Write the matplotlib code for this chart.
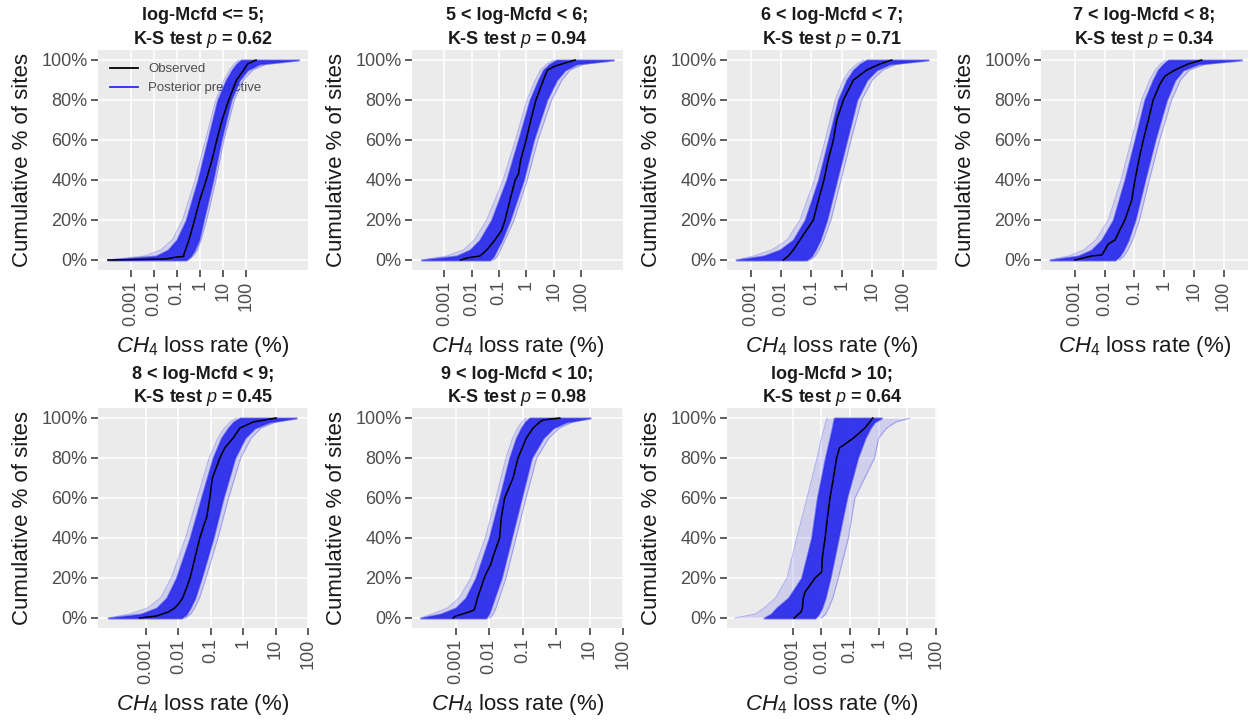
import numpy as np
import matplotlib
matplotlib.use('Agg')
import matplotlib.pyplot as plt

plt.rcParams['font.family'] = ['Liberation Sans', 'DejaVu Sans']
plt.rcParams['mathtext.fontset'] = 'custom'
plt.rcParams['mathtext.rm'] = 'Liberation Sans'
plt.rcParams['mathtext.it'] = 'Liberation Sans:italic'
plt.rcParams['mathtext.bf'] = 'Liberation Sans:bold'

groups = ['log-Mcfd <= 5', '5 < log-Mcfd < 6', '6 < log-Mcfd < 7', '7 < log-Mcfd < 8',
          '8 < log-Mcfd < 9', '9 < log-Mcfd < 10', 'log-Mcfd > 10']
ks_p = [0.62, 0.94, 0.71, 0.34, 0.45, 0.98, 0.64]

# cumulative % levels at which the posterior predictive band was read
pct = [0, 2, 5, 10, 20, 40, 60, 80, 90, 95, 98, 100]

# band edges, log10 of CH4 loss rate (%): dense core and faint outer draws
core_lo = [
    [-4.0, -1.9, -1.38, -1.0, -0.59, -0.08, 0.35, 0.78, 1.15, 1.4, 1.6, 1.8],
    [-3.83, -2.55, -2.06, -1.7, -1.27, -0.72, -0.29, 0.13, 0.44, 0.62, 0.85, 1.1],
    [-3.48, -2.58, -2.04, -1.6, -1.21, -0.77, -0.44, -0.12, 0.16, 0.38, 0.6, 0.82],
    [-3.84, -2.89, -2.44, -2.1, -1.71, -1.32, -0.98, -0.65, -0.37, -0.2, -0.02, 0.14],
    [-4.16, -3.15, -2.67, -2.36, -2.06, -1.64, -1.29, -0.93, -0.67, -0.46, -0.3, -0.1],
    [-4.05, -3.45, -3.0, -2.7, -2.4, -2.0, -1.69, -1.39, -1.19, -1.04, -0.92, -0.79],
    [-4.0, -3.75, -3.56, -3.15, -2.69, -2.34, -2.14, -1.86, -1.7, -1.62, -1.58, -1.55],
]
core_hi = [
    [-0.6, -0.4, -0.23, -0.04, 0.16, 0.57, 0.93, 1.36, 1.73, 2.08, 2.6, 4.3],
    [-1.33, -1.2, -1.09, -0.9, -0.6, -0.11, 0.26, 0.74, 1.1, 1.41, 1.84, 3.18],
    [-1.16, -1.0, -0.88, -0.72, -0.5, -0.17, 0.16, 0.49, 0.82, 1.14, 1.58, 2.84],
    [-1.65, -1.5, -1.37, -1.21, -0.98, -0.65, -0.31, 0.08, 0.36, 0.64, 1.15, 2.6],
    [-1.9, -1.75, -1.64, -1.49, -1.29, -0.93, -0.62, -0.26, 0.05, 0.36, 0.82, 1.64],
    [-2.1, -2.02, -1.95, -1.85, -1.64, -1.34, -1.04, -0.74, -0.39, -0.09, 0.31, 1.02],
    [-2.22, -2.1, -1.99, -1.87, -1.7, -1.41, -1.12, -0.74, -0.48, -0.3, -0.15, 0.1],
]
outer_lo = [
    [-4.0, -2.4, -1.7, -1.2, -0.75, -0.2, 0.25, 0.7, 1.05, 1.3, 1.5, 1.7],
    [-3.83, -2.9, -2.3, -1.9, -1.45, -0.85, -0.4, 0.02, 0.33, 0.52, 0.75, 1.0],
    [-3.48, -2.9, -2.3, -1.8, -1.38, -0.9, -0.55, -0.22, 0.05, 0.27, 0.5, 0.72],
    [-3.84, -3.2, -2.7, -2.3, -1.88, -1.45, -1.1, -0.76, -0.48, -0.3, -0.12, 0.05],
    [-4.16, -3.5, -2.95, -2.55, -2.22, -1.78, -1.42, -1.05, -0.78, -0.58, -0.4, -0.2],
    [-4.05, -3.7, -3.25, -2.9, -2.55, -2.12, -1.8, -1.5, -1.3, -1.15, -1.02, -0.9],
    [-5.01, -4.3, -4.0, -3.6, -3.2, -2.86, -2.5, -2.15, -2.0, -1.9, -1.85, -1.8],
]
outer_hi = [
    [-0.5, -0.3, -0.1, 0.05, 0.3, 0.7, 1.05, 1.5, 1.9, 2.3, 2.9, 4.3],
    [-1.2, -1.05, -0.95, -0.78, -0.45, 0.03, 0.42, 0.92, 1.3, 1.6, 2.1, 3.18],
    [-1.05, -0.88, -0.75, -0.6, -0.36, -0.03, 0.3, 0.65, 1.0, 1.35, 1.8, 2.84],
    [-1.5, -1.35, -1.22, -1.06, -0.83, -0.5, -0.15, 0.25, 0.55, 0.85, 1.4, 2.6],
    [-1.78, -1.62, -1.5, -1.35, -1.15, -0.78, -0.45, -0.08, 0.25, 0.55, 1.0, 1.64],
    [-1.98, -1.88, -1.8, -1.7, -1.5, -1.2, -0.9, -0.58, -0.22, 0.1, 0.5, 1.02],
    [-2.0, -1.85, -1.75, -1.6, -1.41, -1.06, -0.83, -0.15, 0.0, 0.28, 0.6, 1.09],
]

# observed ECDF, log10 of loss rate and cumulative %
obs_x = [
    [-4.0, -1.5, -1.0, -0.7, -0.69, -0.47, -0.23, 0.0, 0.28, 0.53, 0.74, 0.97, 1.26, 1.6, 1.91, 2.08, 2.45],
    [-2.4, -2.18, -1.7, -1.45, -1.15, -0.9, -0.78, -0.6, -0.41, -0.29, -0.21, -0.01, 0.16, 0.35, 0.62, 0.77, 1.05, 1.78],
    [-1.93, -1.76, -1.6, -1.38, -1.16, -0.94, -0.77, -0.59, -0.45, -0.28, -0.17, 0.05, 0.38, 0.82, 1.25, 1.64],
    [-3.0, -2.44, -2.1, -1.99, -1.88, -1.65, -1.49, -1.32, -1.09, -0.98, -0.85, -0.7, -0.53, -0.37, -0.14, 0.03, 0.36, 0.81, 1.26],
    [-3.2, -2.67, -2.5, -2.31, -2.11, -1.95, -1.87, -1.75, -1.64, -1.49, -1.34, -1.18, -1.13, -1.03, -0.95, -0.72, -0.57, -0.31, -0.1, 0.31, 1.02],
    [-3.08, -3.0, -2.8, -2.6, -2.45, -2.35, -2.15, -2.1, -1.95, -1.9, -1.69, -1.64, -1.54, -1.29, -1.14, -0.89, -0.69, -0.49, -0.39, 0.11],
    [-2.95, -2.71, -2.66, -2.63, -2.57, -2.22, -1.99, -1.97, -1.87, -1.79, -1.7, -1.58, -1.47, -1.37, -0.88, -0.48, -0.21],
]
obs_y = [
    [0, 0.5, 1.5, 1.8, 3, 10, 20, 30, 40, 50, 60, 70, 80, 90, 95, 98, 100],
    [0, 1, 2, 5, 10, 15, 20, 30, 40, 43, 50, 60, 70, 80, 90, 95, 97, 100],
    [0, 2, 5, 10, 15, 20, 30, 40, 50, 60, 70, 80, 90, 95, 98, 100],
    [0, 2, 2.5, 5, 8, 10, 15, 20, 30, 40, 50, 60, 70, 80, 88, 92, 95, 98, 100],
    [0, 1, 2, 3, 5, 8, 10, 15, 20, 30, 40, 48, 50, 60, 70, 80, 85, 90, 95, 98, 100],
    [0, 1, 2, 3, 4, 10, 20, 22, 27, 30, 40, 50, 60, 70, 80, 90, 95, 98, 99, 100],
    [0, 3, 5, 10, 13, 20, 23, 30, 40, 50, 60, 70, 80, 85, 90, 95, 100],
]

x_breaks = [0.001, 0.01, 0.1, 1, 10, 100]
x_labels = ['0.001', '0.01', '0.1', '1', '10', '100']
y_breaks = [0, 20, 40, 60, 80, 100]

# panel x limits (log10) and pixel boxes
xlims = [(-4.43, 4.71), (-4.18, 3.53), (-3.78, 3.13), (-4.14, 2.82),
         (-4.48, 1.96), (-4.31, 1.98), (-5.29, 2.03)]
W, H = 1250, 721
col_x = [98, 412, 727, 1041]
col_w = [210, 211, 210, 207]
row_top = [50, 408]
panel_h = 220

blue = '#2b2beb'
bg = '#ebebeb'

fig = plt.figure(figsize=(12.5, 7.21), dpi=100)

for i in range(7):
    r, c = divmod(i, 4)
    ax = fig.add_axes([col_x[c] / W, (H - row_top[r] - panel_h) / H,
                       col_w[c] / W, panel_h / H])
    ax.set_facecolor(bg)
    for s in ax.spines.values():
        s.set_visible(False)
    ax.set_xscale('log')
    ax.grid(True, color='white', linewidth=1.1, zorder=0)
    ax.set_axisbelow(True)

    lo_o = 10.0 ** np.array(outer_lo[i])
    hi_o = 10.0 ** np.array(outer_hi[i])
    lo_c = 10.0 ** np.array(core_lo[i])
    hi_c = 10.0 ** np.array(core_hi[i])
    ax.fill_betweenx(pct, lo_o, hi_o, color=blue, alpha=0.14, lw=0, zorder=2)
    ax.plot(lo_o, pct, color=blue, alpha=0.3, lw=0.8, zorder=2)
    ax.plot(hi_o, pct, color=blue, alpha=0.3, lw=0.8, zorder=2)
    ax.fill_betweenx(pct, lo_c, hi_c, color=blue, alpha=0.55, lw=1.5,
                     edgecolor=blue, zorder=2.1)
    ax.fill_betweenx(pct, lo_c, hi_c, color=blue, alpha=0.85, lw=0, zorder=2.2)
    ax.plot(10.0 ** np.array(obs_x[i]), obs_y[i], color='black', lw=1.1, zorder=3,
            solid_joinstyle='round')

    ax.set_xlim(10 ** xlims[i][0], 10 ** xlims[i][1])
    ax.set_ylim(-5, 105)
    ax.set_xticks(x_breaks)
    ax.set_xticklabels(x_labels, rotation=90)
    ax.xaxis.set_minor_locator(matplotlib.ticker.NullLocator())
    ax.set_yticks(y_breaks)
    ax.set_yticklabels([f'{v}%' for v in y_breaks])
    ax.tick_params(axis='both', length=5, width=1.1, color='#333333',
                   labelcolor='#4d4d4d', labelsize=13, pad=2.5)

    ax.set_title(f'{groups[i]};\nK-S test $p$ = {ks_p[i]:.2f}', fontsize=13,
                 fontweight='bold', color='#1a1a1a', pad=4, linespacing=1.3)
    ax.set_ylabel('Cumulative % of sites', fontsize=16, color='#1a1a1a', labelpad=6)
    ax.set_xlabel('$CH_4$ loss rate (%)', fontsize=16, color='#1a1a1a', labelpad=6)

    if i == 0:
        ax.plot([], [], color='black', lw=1.3, label='Observed')
        ax.plot([], [], color=blue, lw=1.3, label='Posterior predictive')
        leg = ax.legend(loc='upper left', bbox_to_anchor=(0.058, 0.94), frameon=False,
                        fontsize=9.5, handlelength=2.1, handletextpad=0.8,
                        labelspacing=0.5, borderpad=0, borderaxespad=0)
        for t in leg.get_texts():
            t.set_color('#4d4d4d')
        leg.set_zorder(1.5)

fig.savefig('out.png', dpi=100, facecolor='white')
